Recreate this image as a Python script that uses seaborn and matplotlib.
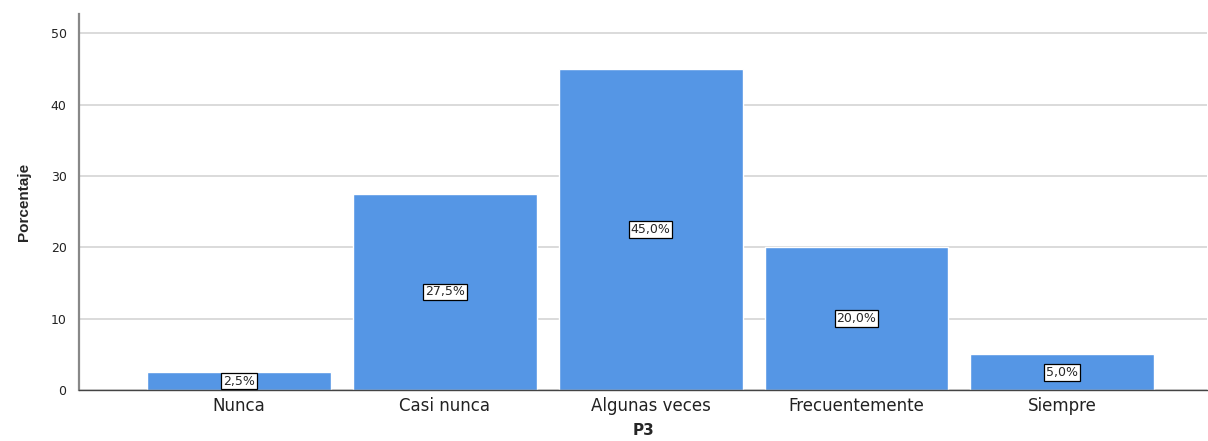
import pandas as pd
import matplotlib.pyplot as plt
import seaborn as sns

categorias = ['Nunca', 'Casi nunca', 'Algunas veces', 'Frecuentemente', 'Siempre']
porcentajes = [2.5, 27.5, 45.0, 20.0, 5.0]
etiquetas = ['2,5%', '27,5%', '45,0%', '20,0%', '5,0%']

df = pd.DataFrame({'P3': categorias, 'Porcentaje': porcentajes})

sns.set_style('white')
plt.rcParams['font.family'] = ['DejaVu Sans']

fig = plt.figure(figsize=(12.08, 4.41), dpi=100)
ax = fig.add_axes([0.0654, 0.1156, 0.934, 0.8526])

sns.barplot(data=df, x='P3', y='Porcentaje', color='#5596e5', saturation=1,
            width=0.893, ax=ax, zorder=2)

ax.set_xlim(-0.777, 4.704)
ax.set_ylim(0, 52.7)
ax.set_yticks([0, 10, 20, 30, 40, 50])
ax.yaxis.grid(True, color='#d4d4d4', linewidth=1.2, zorder=0)
ax.set_axisbelow(True)

# etiquetas de porcentaje en el centro de cada barra
for i, (v, t) in enumerate(zip(porcentajes, etiquetas)):
    ax.text(i, v / 2, t, ha='center', va='center', fontsize=9, zorder=5,
            bbox=dict(boxstyle='square,pad=0.15', facecolor='white',
                      edgecolor='black', linewidth=0.9))

for s in ['top', 'right']:
    ax.spines[s].set_visible(False)
ax.spines['left'].set_color('#888888')
ax.spines['left'].set_linewidth(1.6)
ax.spines['bottom'].set_color('#444444')
ax.spines['bottom'].set_linewidth(1.0)

ax.tick_params(axis='x', length=0, labelsize=12, pad=5, labelcolor='#222222')
ax.tick_params(axis='y', length=0, labelsize=9, pad=9, labelcolor='#222222')

ax.set_xlabel('P3', fontsize=11, fontweight='bold', labelpad=6)
ax.set_ylabel('Porcentaje', fontsize=11, fontweight='bold', labelpad=14,
              family=['Liberation Sans Narrow', 'Liberation Sans', 'DejaVu Sans'])

fig.savefig('out.png', dpi=100)
